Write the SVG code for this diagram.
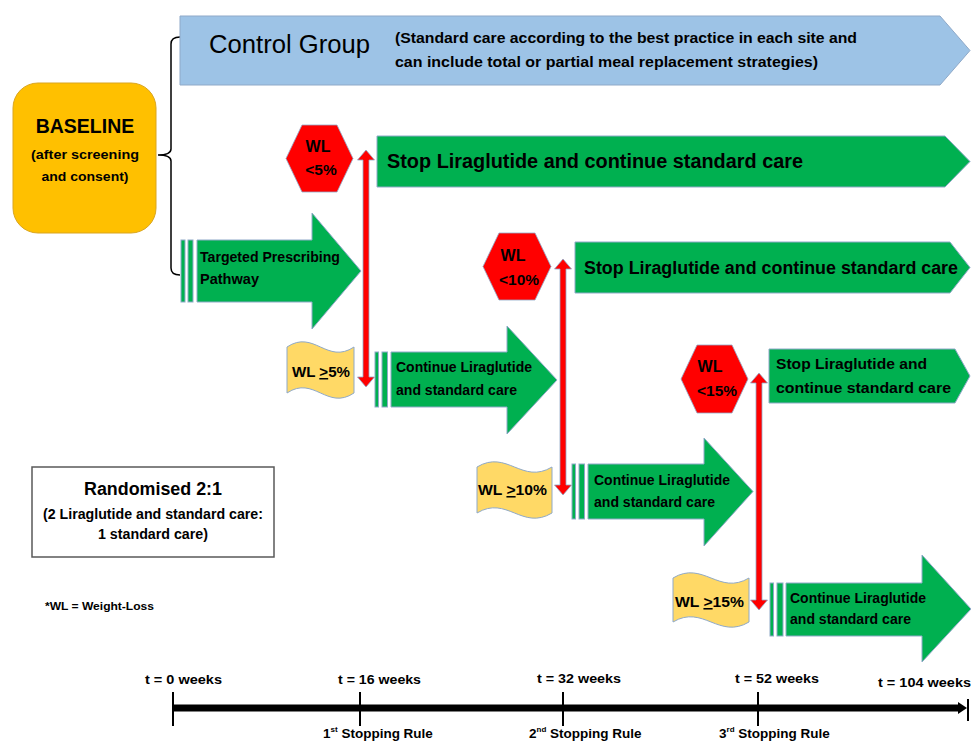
<svg xmlns="http://www.w3.org/2000/svg" width="971" height="742" viewBox="0 0 971 742">
<defs>
<style>
.t{font-family:"Liberation Sans",Arial,sans-serif;fill:#000}
.b{font-weight:bold}
.green{fill:#00B050;stroke:#8FA9C8;stroke-width:1}
.red{fill:#FF0000;stroke:#8FA9C8;stroke-width:0.8}
.wave{fill:#FFD966;stroke:#8FA9C8;stroke-width:1}
.tick{stroke:#000;stroke-width:2;fill:none}
</style>
</defs>
<rect width="971" height="742" fill="#fff"/>

<g id="connectors">
<path d="M180,37 C174,37 171,39 171,44 L171,149 C171,153 168,155 158,155 M158,155 C168,155 171,157 171,161 L171,268 C171,273 174,275 180,275" fill="none" stroke="#000" stroke-width="1.5"/>
<path id="red1" class="red" d="M366,150 L374.5,160 L369,160 L369,377 L374.5,377 L366,387 L357.5,377 L363,377 L363,160 L357.5,160 Z"/>
<path id="red2" class="red" d="M563,259 L571.5,269 L566,269 L566,485 L571.5,485 L563,495 L554.5,485 L560,485 L560,269 L554.5,269 Z"/>
<path id="red3" class="red" d="M759,373 L767.5,383 L762,383 L762,600 L767.5,600 L759,610 L750.5,600 L756,600 L756,383 L750.5,383 Z"/>
</g>

<g id="baseline">
<rect x="13" y="83" width="143" height="150" rx="25" fill="#FFC000" stroke="#D9A520" stroke-width="1"/>
<text class="t b" x="85" y="133" font-size="19.5" text-anchor="middle">BASELINE</text>
<text class="t b" x="85" y="159" font-size="13" text-anchor="middle" textLength="108" lengthAdjust="spacingAndGlyphs">(after screening</text>
<text class="t b" x="85" y="181" font-size="13" text-anchor="middle" textLength="87" lengthAdjust="spacingAndGlyphs">and consent)</text>
</g>

<g id="control-group">
<path d="M180,16 L940,16 L970,50.5 L940,85 L180,85 Z" fill="#9DC3E6" stroke="#8FA9C8" stroke-width="1"/>
<text class="t" x="209" y="53" font-size="25" textLength="161" lengthAdjust="spacingAndGlyphs">Control Group</text>
<text class="t b" x="395" y="43" font-size="14" textLength="462" lengthAdjust="spacingAndGlyphs">(Standard care according to the best practice in each site and</text>
<text class="t b" x="395" y="67" font-size="14" textLength="423" lengthAdjust="spacingAndGlyphs">can include total or partial meal replacement strategies)</text>
</g>

<g id="targeted">
<rect class="green" x="181" y="240" width="4" height="62"/>
<rect class="green" x="188" y="240" width="5" height="62"/>
<path class="green" d="M197,240 L312,240 L312,213 L361,271 L312,329 L312,302 L197,302 Z"/>
<text class="t b" x="200" y="262" font-size="14" textLength="140" lengthAdjust="spacingAndGlyphs">Targeted Prescribing</text>
<text class="t b" x="200" y="284" font-size="14" textLength="59" lengthAdjust="spacingAndGlyphs">Pathway</text>
</g>

<g id="hex1">
<path class="red" d="M286,158.5 L302,125 L337,125 L353,158.5 L337,192 L302,192 Z"/>
<text class="t b" x="318" y="152" font-size="16" text-anchor="middle">WL</text>
<text class="t b" x="321" y="175" font-size="15.5" text-anchor="middle">&lt;5%</text>
</g>

<g id="stop1">
<path class="green" d="M377,136 L945,136 L970,161.5 L945,187 L377,187 Z"/>
<text class="t b" x="387" y="168" font-size="20" textLength="416" lengthAdjust="spacingAndGlyphs">Stop Liraglutide and continue standard care</text>
</g>

<g id="wl5">
<path class="wave" d="M287,347 C314,329 327,365 354,347 L354,393 C327,411 314,375 287,393 Z"/>
<text class="t b" x="292" y="377" font-size="15" textLength="58" lengthAdjust="spacingAndGlyphs">WL <tspan text-decoration="underline">&gt;</tspan>5%</text>
</g>

<g id="continue1">
<rect class="green" x="375" y="352" width="3.5" height="55"/>
<rect class="green" x="382" y="352" width="5.5" height="55"/>
<path class="green" d="M391,352 L507,352 L507,326 L557,380 L507,434 L507,407 L391,407 Z"/>
<text class="t b" x="396" y="372" font-size="14" textLength="136" lengthAdjust="spacingAndGlyphs">Continue Liraglutide</text>
<text class="t b" x="396" y="395" font-size="14" textLength="121" lengthAdjust="spacingAndGlyphs">and standard care</text>
</g>

<g id="hex2">
<path class="red" d="M483,266.5 L499,233 L535,233 L551,266.5 L535,300 L499,300 Z"/>
<text class="t b" x="513" y="261" font-size="16" text-anchor="middle">WL</text>
<text class="t b" x="519" y="285" font-size="15.5" text-anchor="middle">&lt;10%</text>
</g>

<g id="stop2">
<path class="green" d="M575,242 L950,242 L970,267.5 L950,293 L575,293 Z"/>
<text class="t b" x="584" y="274" font-size="18" textLength="374" lengthAdjust="spacingAndGlyphs">Stop Liraglutide and continue standard care</text>
</g>

<g id="wl10">
<path class="wave" d="M477,467 C507,449 522,485 552,467 L552,513 C522,531 507,495 477,513 Z"/>
<text class="t b" x="478" y="495" font-size="15.5" textLength="69" lengthAdjust="spacingAndGlyphs">WL <tspan text-decoration="underline">&gt;</tspan>10%</text>
</g>

<g id="continue2">
<rect class="green" x="572" y="464" width="3.5" height="55"/>
<rect class="green" x="579" y="464" width="5.5" height="55"/>
<path class="green" d="M588,464 L704,464 L704,438 L753,491.5 L704,546 L704,519 L588,519 Z"/>
<text class="t b" x="594" y="485" font-size="14" textLength="136" lengthAdjust="spacingAndGlyphs">Continue Liraglutide</text>
<text class="t b" x="594" y="507" font-size="14" textLength="121" lengthAdjust="spacingAndGlyphs">and standard care</text>
</g>

<g id="hex3">
<path class="red" d="M681,379 L697,345 L732,345 L748,379 L732,413 L697,413 Z"/>
<text class="t b" x="710" y="372" font-size="16" text-anchor="middle">WL</text>
<text class="t b" x="717" y="396" font-size="15.5" text-anchor="middle">&lt;15%</text>
</g>

<g id="stop3">
<path class="green" d="M769,349 L955,349 L970,376 L955,403 L769,403 Z"/>
<text class="t b" x="776" y="369" font-size="15.5" textLength="151" lengthAdjust="spacingAndGlyphs">Stop Liraglutide and</text>
<text class="t b" x="776" y="393" font-size="15.5" textLength="175" lengthAdjust="spacingAndGlyphs">continue standard care</text>
</g>

<g id="wl15">
<path class="wave" d="M673,578 C703,560 719,596 749,578 L749,622 C719,640 703,604 673,622 Z"/>
<text class="t b" x="675" y="607" font-size="15.5" textLength="69" lengthAdjust="spacingAndGlyphs">WL <tspan text-decoration="underline">&gt;</tspan>15%</text>
</g>

<g id="continue3">
<rect class="green" x="770" y="583" width="3.5" height="53"/>
<rect class="green" x="777" y="583" width="6" height="53"/>
<path class="green" d="M786,583 L922,583 L922,555 L971,609 L922,662 L922,636 L786,636 Z"/>
<text class="t b" x="790" y="603" font-size="14" textLength="136" lengthAdjust="spacingAndGlyphs">Continue Liraglutide</text>
<text class="t b" x="790" y="624" font-size="14" textLength="121" lengthAdjust="spacingAndGlyphs">and standard care</text>
</g>

<g id="randomised">
<rect x="32" y="467" width="242" height="90" fill="#fff" stroke="#595959" stroke-width="1.5"/>
<text class="t b" x="153" y="495" font-size="17.5" text-anchor="middle" textLength="138" lengthAdjust="spacingAndGlyphs">Randomised 2:1</text>
<text class="t b" x="153" y="519" font-size="14" text-anchor="middle" textLength="220" lengthAdjust="spacingAndGlyphs">(2 Liraglutide and standard care:</text>
<text class="t b" x="153" y="539" font-size="14" text-anchor="middle" textLength="110" lengthAdjust="spacingAndGlyphs">1 standard care)</text>
</g>

<g id="legend">
<text class="t b" x="45" y="610" font-size="11.5" textLength="109" lengthAdjust="spacingAndGlyphs">*WL = Weight-Loss</text>
</g>

<g id="timeline">
<line x1="173" y1="708" x2="960" y2="708" stroke="#000" stroke-width="7"/>
<path d="M958,702 L967,708 L958,714 Z" fill="#000"/>
<line class="tick" x1="173" y1="692" x2="173" y2="726"/>
<line class="tick" x1="360" y1="692" x2="360" y2="726"/>
<line class="tick" x1="563" y1="692" x2="563" y2="726"/>
<line class="tick" x1="758" y1="692" x2="758" y2="726"/>
<line class="tick" x1="968" y1="699" x2="968" y2="721"/>
<text class="t b" x="145" y="684" font-size="13.5" textLength="77" lengthAdjust="spacingAndGlyphs">t = 0 weeks</text>
<text class="t b" x="338" y="684" font-size="13.5" textLength="83" lengthAdjust="spacingAndGlyphs">t = 16 weeks</text>
<text class="t b" x="537" y="683" font-size="13.5" textLength="84" lengthAdjust="spacingAndGlyphs">t = 32 weeks</text>
<text class="t b" x="735" y="683" font-size="13.5" textLength="84" lengthAdjust="spacingAndGlyphs">t = 52 weeks</text>
<text class="t b" x="878" y="687" font-size="13.5" textLength="93" lengthAdjust="spacingAndGlyphs">t = 104 weeks</text>
<text class="t b" x="323" y="738" font-size="13.5">1<tspan font-size="8" dy="-6">st</tspan><tspan dy="6"> Stopping Rule</tspan></text>
<text class="t b" x="529" y="738" font-size="13.5">2<tspan font-size="8" dy="-6">nd</tspan><tspan dy="6"> Stopping Rule</tspan></text>
<text class="t b" x="719" y="738" font-size="13.5">3<tspan font-size="8" dy="-6">rd</tspan><tspan dy="6"> Stopping Rule</tspan></text>
</g>
</svg>
